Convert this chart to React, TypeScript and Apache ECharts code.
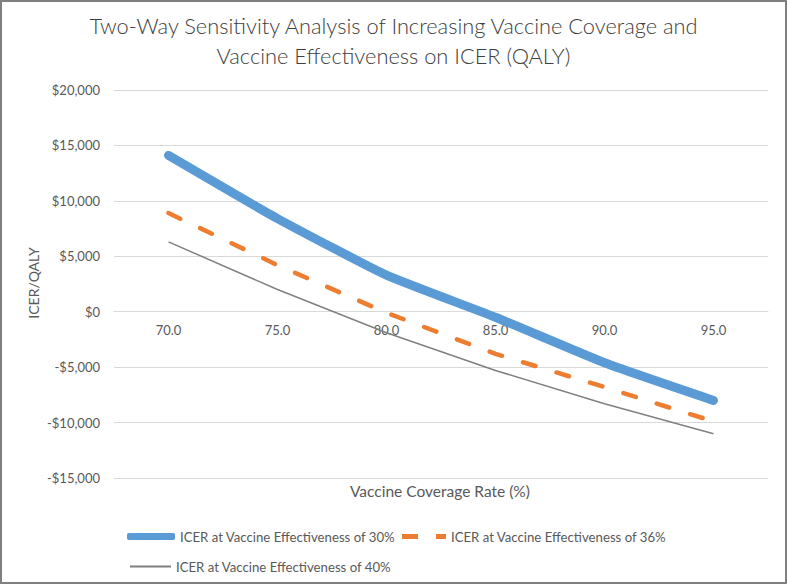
import React, { useEffect, useRef } from "react";
import * as echarts from "echarts";

const categories = ["70.0", "75.0", "80.0", "85.0", "90.0", "95.0"];
const seriesNames = [
  "ICER at Vaccine Effectiveness of 30%",
  "ICER at Vaccine Effectiveness of 36%",
  "ICER at Vaccine Effectiveness of 40%",
];
const icer30 = [14100, 8400, 3300, -500, -4600, -8000];
const icer36 = [8900, 4200, -100, -3800, -6800, -9900];
const icer40 = [6300, 2000, -1900, -5300, -8300, -11000];

const FONT = "Lato, 'Open Sans', sans-serif";
const TXT = "#595959";

export default function App() {
  const ref = useRef<HTMLDivElement>(null);
  useEffect(() => {
    if (!ref.current) return;
    const chart = echarts.init(ref.current, undefined, { renderer: "svg" });
    const legendText = { color: TXT, fontSize: 13.2, fontFamily: FONT };
    chart.setOption({
      animation: false,
      backgroundColor: "#ffffff",
      textStyle: { fontFamily: FONT },
      title: {
        text: "Two-Way Sensitivity Analysis of Increasing Vaccine Coverage and\nVaccine Effectiveness on ICER (QALY)",
        left: "center",
        top: 3,
        textStyle: { fontFamily: FONT, fontSize: 21.8, fontWeight: 300, color: "#404040", lineHeight: 30 },
      },
      grid: { left: 112, right: 17, top: 88, bottom: 104, containLabel: false },
      xAxis: {
        type: "category",
        data: categories,
        boundaryGap: true,
        offset: -166.7,
        axisLine: { onZero: false, lineStyle: { color: "#d9d9d9", width: 1 } },
        axisTick: { show: false },
        axisLabel: { color: TXT, fontSize: 13, margin: 12, fontFamily: FONT },
      },
      yAxis: {
        type: "value",
        min: -15000,
        max: 20000,
        interval: 5000,
        axisLine: { show: false },
        axisTick: { show: false },
        splitLine: { lineStyle: { color: "#d9d9d9", width: 1 } },
        axisLabel: {
          color: TXT,
          fontSize: 13,
          margin: 14,
          fontFamily: FONT,
          formatter: (v: number) =>
            (v < 0 ? "-$" : "$") + Math.abs(v).toLocaleString("en-US"),
        },
      },
      legend: [
        {
          data: [{ name: seriesNames[0], icon: "roundRect" }],
          left: 120,
          top: 523,
          itemWidth: 48,
          itemHeight: 7,
          textStyle: legendText,
        },
        {
          data: [{ name: seriesNames[1], icon: "path://M0,0h16v5h-16z M34,0h10v5h-10z" }],
          left: 395,
          top: 523,
          itemWidth: 44,
          itemHeight: 5,
          textStyle: legendText,
        },
        {
          data: [{ name: seriesNames[2], icon: "rect" }],
          left: 123,
          top: 553,
          itemWidth: 41,
          itemHeight: 2,
          textStyle: legendText,
        },
      ],
      graphic: [
        {
          type: "text",
          left: 348,
          top: 481,
          style: { text: "Vaccine Coverage Rate (%)", fill: TXT, fontSize: 15.5, fontFamily: FONT },
        },
        {
          type: "text",
          x: 31,
          y: 281,
          rotation: Math.PI / 2,
          style: {
            text: "ICER/QALY",
            fill: TXT,
            fontSize: 14,
            fontFamily: FONT,
            align: "center",
            verticalAlign: "middle",
          },
        },
      ],
      series: [
        {
          name: seriesNames[0],
          type: "line",
          data: icer30,
          symbol: "none",
          smooth: 0.15,
          lineStyle: { color: "#5B9BD5", width: 9, cap: "round", join: "round" },
          itemStyle: { color: "#5B9BD5" },
        },
        {
          name: seriesNames[1],
          type: "line",
          data: icer36,
          symbol: "none",
          lineStyle: { color: "#ED7D31", width: 4.5, type: [13, 22], cap: "round" },
          itemStyle: { color: "#ED7D31" },
        },
        {
          name: seriesNames[2],
          type: "line",
          data: icer40,
          symbol: "none",
          lineStyle: { color: "#808080", width: 1.5 },
          itemStyle: { color: "#808080" },
        },
      ],
    });
    return () => chart.dispose();
  }, []);
  return (
    <div
      style={{
        position: "fixed",
        left: 0,
        top: 0,
        width: 787,
        height: 584,
        boxSizing: "border-box",
        border: "2px solid #7f7f7f",
        background: "#fff",
      }}
    >
      <div ref={ref} style={{ width: 783, height: 580 }} />
    </div>
  );
}
